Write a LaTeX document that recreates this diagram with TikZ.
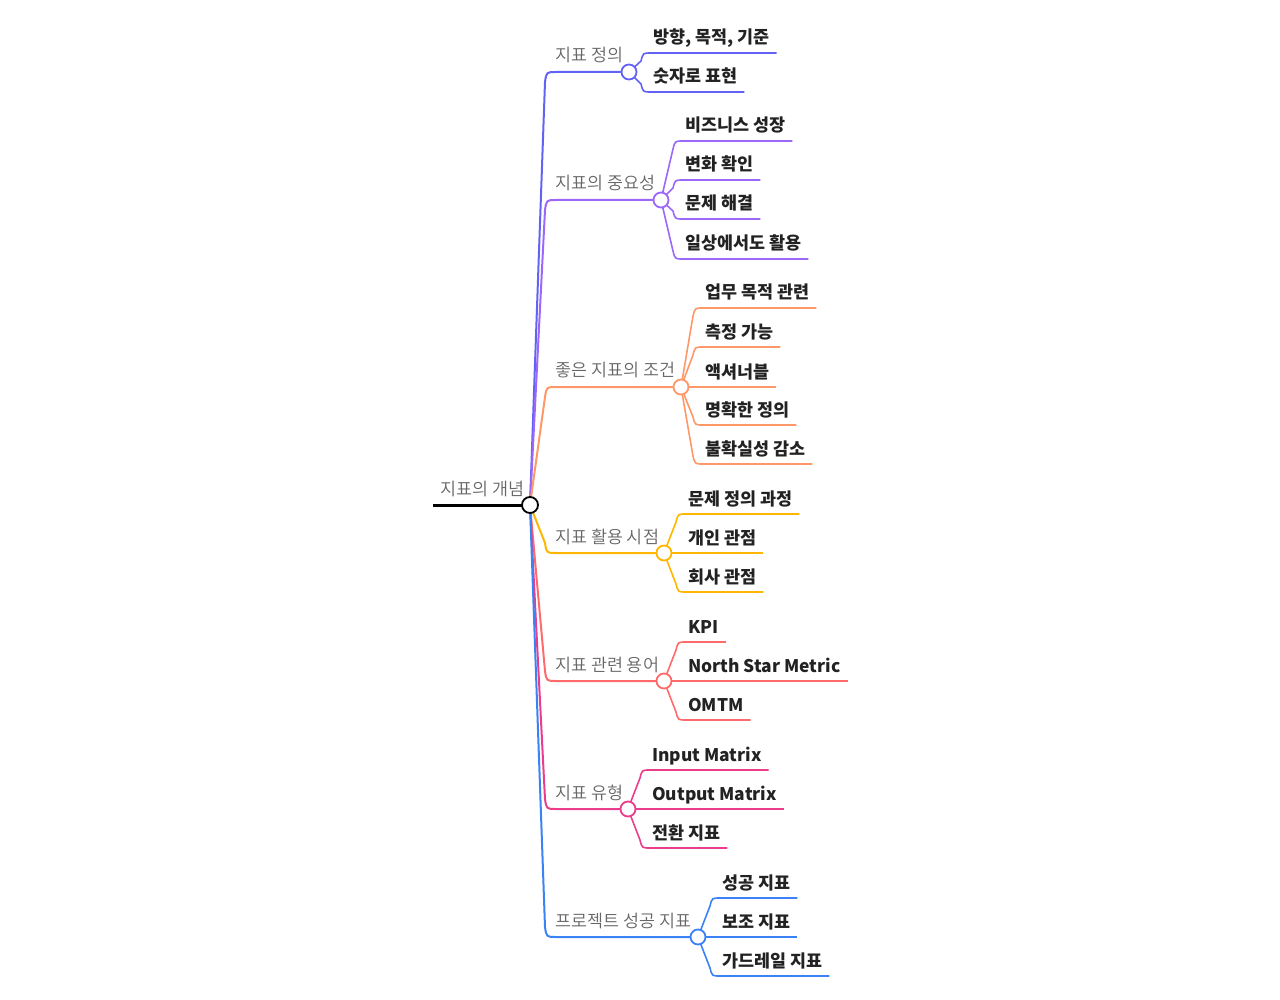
\documentclass[tikz,border=0pt]{standalone}
\usepackage{fontspec}
\setmainfont{Noto Sans CJK KR}
\newfontfamily\mmlight{Noto Sans CJK KR DemiLight}
\usetikzlibrary{backgrounds}
\definecolor{cA}{RGB}{98,98,245}
\definecolor{cB}{RGB}{156,104,250}
\definecolor{cC}{RGB}{255,152,104}
\definecolor{cD}{RGB}{255,182,0}
\definecolor{cE}{RGB}{255,106,106}
\definecolor{cF}{RGB}{234,62,140}
\definecolor{cG}{RGB}{59,130,246}
\definecolor{lblgray}{RGB}{102,102,102}
\definecolor{txtdark}{RGB}{34,34,34}

% \mmbranch{color}{y}{circle x}{name}{label}
\newcommand\mmbranch[5]{%
  \node[bcirc, draw=#1] (#4) at (#3,#2) {};
  \node[blabel] (#4l) at (555,#2-10) {#5};
  \pgfmathsetmacro\mmby{ifthenelse(#2<505,#2+10,#2-10)}
  \begin{pgfonlayer}{background}
    \draw[bline, #1] (root.center) -- (545,\mmby) .. controls (546.5,#2) .. (556,#2) -- (#4.center);
  \end{pgfonlayer}%
}
% \mmchild{color}{circle name}{cx}{cy}{underline y}{name}{text}
\newcommand\mmchild[7]{%
  \node[ctext] (#6) at (#3+17,#5-9) {#7};
  \pgfmathsetmacro\mmcy{ifthenelse(#5<#4,#5+8,#5-8)}
  \begin{pgfonlayer}{background}
  \ifdim#4pt=#5pt
    \draw[cline, #1] (#2.center) -- (#6.east |- 0,#5);
  \else
    \draw[cline, #1] (#2.center) -- (#3+12,\mmcy) .. controls (#3+14,#5) .. (#3+22,#5) -- (#6.east |- 0,#5);
  \fi
  \end{pgfonlayer}%
}

\begin{document}
\begin{tikzpicture}[x=1pt,y=-1pt,
  bcirc/.style={circle, line width=1.8pt, fill=white, minimum size=15pt, inner sep=0pt},
  blabel/.style={font=\mmlight\fontsize{17.4}{19}\selectfont, text=lblgray, inner sep=0pt, anchor=base west},
  ctext/.style={font=\fontsize{17.4}{20}\selectfont\bfseries, text=txtdark, inner xsep=7pt, inner ysep=0pt, anchor=base west},
  bline/.style={line width=2pt, line join=round},
  cline/.style={line width=1.6pt, line join=round},
  rootline/.style={line width=3pt}]
\useasboundingbox (0,0) rectangle (1280,1000);

% root
\node[bcirc, draw=black, minimum size=16pt] (root) at (530,505) {};
\coordinate (rootstart) at (433,505);
\node[blabel] (rootl) at (440,495) {지표의 개념};
\begin{pgfonlayer}{background}
  \draw[rootline] (rootstart) -- (root.center);
\end{pgfonlayer}

% branch 1
\mmbranch{cA}{72}{629}{b1}{지표 정의}
\mmchild{cA}{b1}{629}{72}{53}{b1a}{방향, 목적, 기준}
\mmchild{cA}{b1}{629}{72}{92}{b1b}{숫자로 표현}

% branch 2
\mmbranch{cB}{200}{661}{b2}{지표의 중요성}
\mmchild{cB}{b2}{661}{200}{141}{b2a}{비즈니스 성장}
\mmchild{cB}{b2}{661}{200}{180}{b2b}{변화 확인}
\mmchild{cB}{b2}{661}{200}{219}{b2c}{문제 해결}
\mmchild{cB}{b2}{661}{200}{259}{b2d}{일상에서도 활용}

% branch 3
\mmbranch{cC}{387}{681}{b3}{좋은 지표의 조건}
\mmchild{cC}{b3}{681}{387}{308}{b3a}{업무 목적 관련}
\mmchild{cC}{b3}{681}{387}{347}{b3b}{측정 가능}
\mmchild{cC}{b3}{681}{387}{387}{b3c}{액셔너블}
\mmchild{cC}{b3}{681}{387}{425}{b3d}{명확한 정의}
\mmchild{cC}{b3}{681}{387}{464}{b3e}{불확실성 감소}

% branch 4
\mmbranch{cD}{553}{664}{b4}{지표 활용 시점}
\mmchild{cD}{b4}{664}{553}{514}{b4a}{문제 정의 과정}
\mmchild{cD}{b4}{664}{553}{553}{b4b}{개인 관점}
\mmchild{cD}{b4}{664}{553}{592}{b4c}{회사 관점}

% branch 5
\mmbranch{cE}{681}{664}{b5}{지표 관련 용어}
\mmchild{cE}{b5}{664}{681}{642}{b5a}{KPI}
\mmchild{cE}{b5}{664}{681}{681}{b5b}{North Star Metric}
\mmchild{cE}{b5}{664}{681}{720}{b5c}{OMTM}

% branch 6
\mmbranch{cF}{809}{628}{b6}{지표 유형}
\mmchild{cF}{b6}{628}{809}{770}{b6a}{Input Matrix}
\mmchild{cF}{b6}{628}{809}{809}{b6b}{Output Matrix}
\mmchild{cF}{b6}{628}{809}{848}{b6c}{전환 지표}

% branch 7
\mmbranch{cG}{937}{698}{b7}{프로젝트 성공 지표}
\mmchild{cG}{b7}{698}{937}{898}{b7a}{성공 지표}
\mmchild{cG}{b7}{698}{937}{937}{b7b}{보조 지표}
\mmchild{cG}{b7}{698}{937}{976}{b7c}{가드레일 지표}
\end{tikzpicture}
\end{document}
